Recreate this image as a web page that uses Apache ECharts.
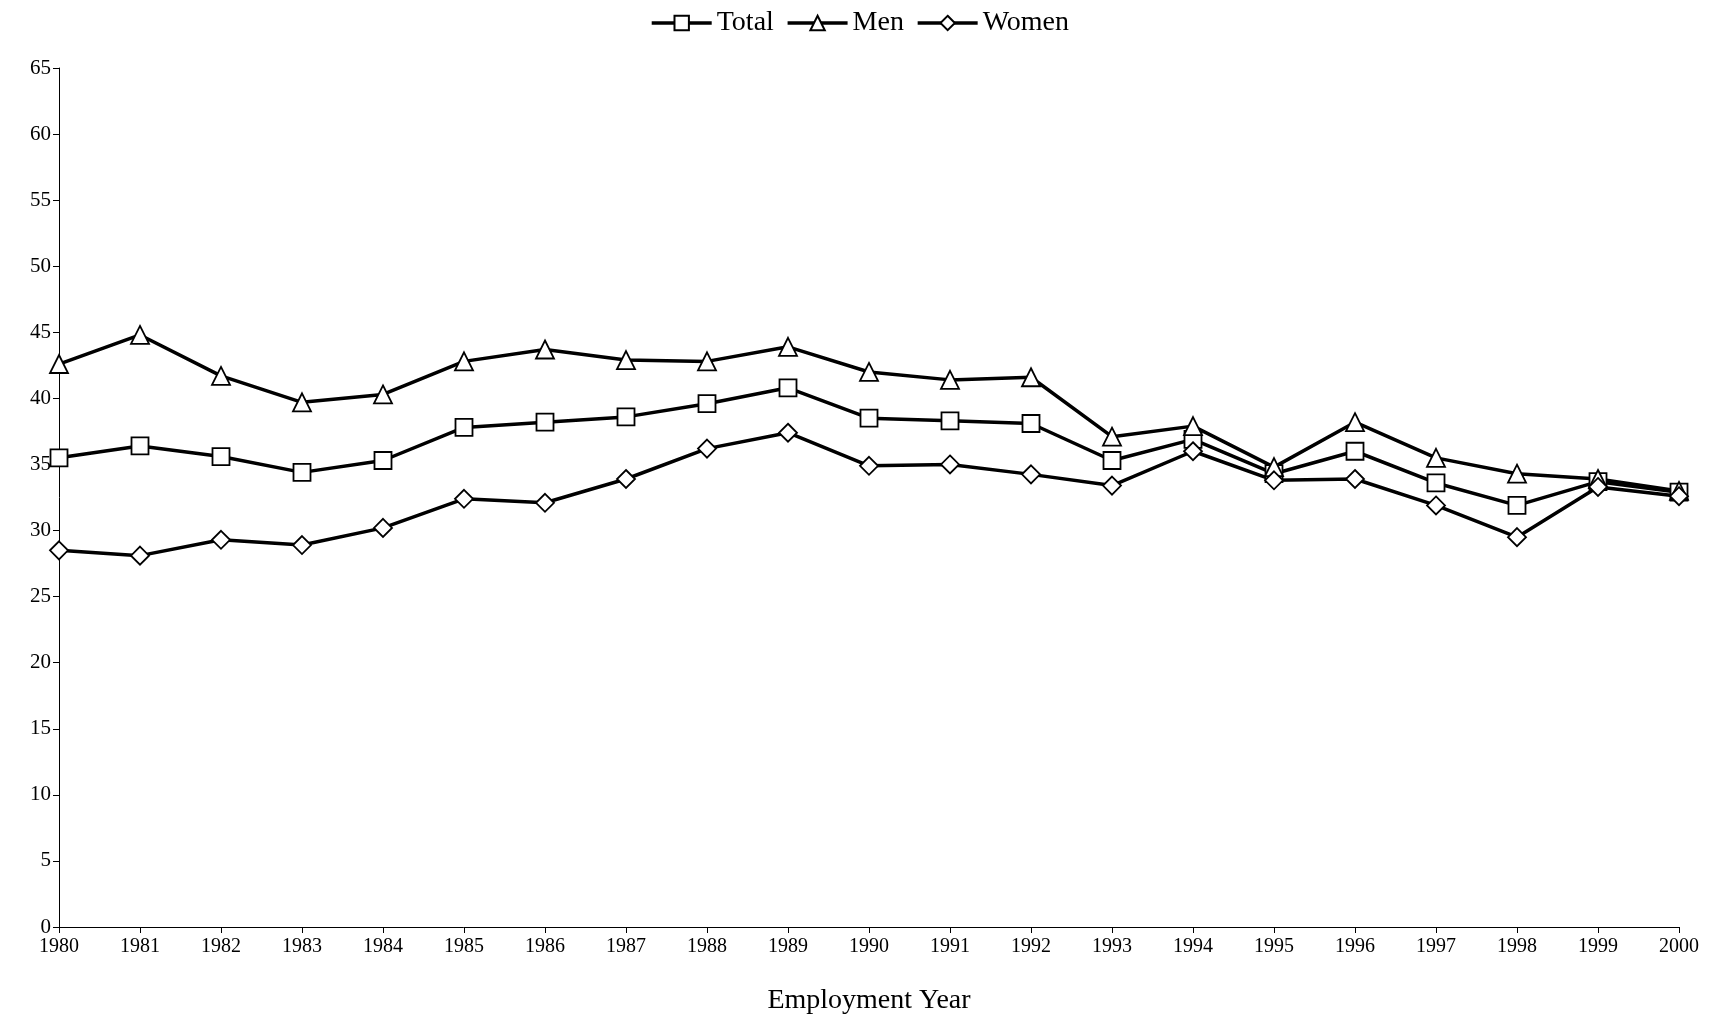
<!DOCTYPE html>
<html><head><meta charset="utf-8">
<script src="https://cdn.jsdelivr.net/npm/echarts@6/dist/echarts.min.js"></script>
<style>html,body{margin:0;background:#fff}#c{width:1719px;height:1023px}</style>
</head><body><div id="c"></div>
<script>
const years = ['1980','1981','1982','1983','1984','1985','1986','1987','1988','1989','1990','1991','1992','1993','1994','1995','1996','1997','1998','1999','2000'];
const total = [35.5,36.4,35.6,34.4,35.3,37.8,38.2,38.6,39.6,40.8,38.5,38.3,38.1,35.3,36.9,34.3,36.0,33.6,31.9,33.7,32.9];
const men = [42.6,44.8,41.7,39.7,40.3,42.8,43.7,42.9,42.8,43.9,42.0,41.4,41.6,37.1,37.9,34.8,38.2,35.5,34.3,33.9,33.0];
const women = [28.5,28.1,29.3,28.9,30.2,32.4,32.1,33.9,36.2,37.4,34.9,35.0,34.25,33.4,36.0,33.8,33.9,31.9,29.5,33.3,32.6];

const font = 'Liberation Serif';
const chart = echarts.init(document.getElementById('c'));
function mk(name, data, symbol, size) {
  return {
    name, type: 'line', data, symbol, symbolSize: size, showSymbol: true,
    lineStyle: { color: '#000', width: 3.5 },
    itemStyle: { color: '#fff', borderColor: '#000', borderWidth: 1.8 },
    emphasis: { disabled: true }, animation: false
  };
}
chart.setOption({
  backgroundColor: '#fff',
  textStyle: { fontFamily: font, color: '#000' },
  legend: {
    top: 4, left: 'center', itemWidth: 60, itemHeight: 18, itemGap: 12,
    lineStyle: { width: 3.5 },
    textStyle: { fontFamily: font, fontSize: 28, color: '#000' },
    data: ['Total', 'Men', 'Women']
  },
  grid: { left: 59, right: 40, top: 68, bottom: 96 },
  xAxis: {
    type: 'category', data: years, boundaryGap: false,
    name: 'Employment Year', nameLocation: 'middle', nameGap: 60,
    nameTextStyle: { fontFamily: font, fontSize: 28, color: '#000' },
    axisLine: { lineStyle: { color: '#000' } },
    axisTick: { alignWithLabel: true, length: 6, lineStyle: { color: '#000' } },
    axisLabel: { fontFamily: font, fontSize: 20, color: '#000', interval: 0, margin: 10 }
  },
  yAxis: {
    type: 'value', min: 0, max: 65, interval: 5,
    axisLine: { show: true, lineStyle: { color: '#000' } },
    axisTick: { show: true, length: 6, lineStyle: { color: '#000' } },
    splitLine: { show: false },
    axisLabel: { fontFamily: font, fontSize: 21, color: '#000' }
  },
  series: [
    mk('Total', total, 'rect', 17),
    mk('Men', men, 'triangle', 18),
    mk('Women', women, 'diamond', 18)
  ]
});
</script></body></html>
